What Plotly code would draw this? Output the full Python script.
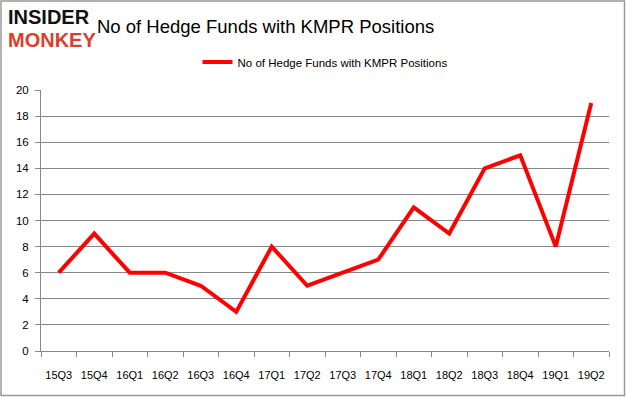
import plotly.graph_objects as go

quarters = ["15Q3", "15Q4", "16Q1", "16Q2", "16Q3", "16Q4", "17Q1", "17Q2",
            "17Q3", "17Q4", "18Q1", "18Q2", "18Q3", "18Q4", "19Q1", "19Q2"]
funds = [6, 9, 6, 6, 5, 3, 8, 5, 6, 7, 11, 9, 14, 15, 8, 19]
series_name = "No of Hedge Funds with KMPR Positions"
y_ticks = list(range(0, 21, 2))

L, R, T, B = 41, 17, 90, 46
W, H = 626, 397
pw, ph = W - L - R, H - T - B

def px(x):
    return (x - L) / pw

def py(y):
    return (H - B - y) / ph

fig = go.Figure()
fig.add_trace(go.Scatter(
    x=quarters, y=funds, mode="lines", name=series_name,
    line=dict(color="#ff0000", width=4),
))

fig.update_layout(
    width=W, height=H,
    margin=dict(l=L, r=R, t=T, b=B),
    paper_bgcolor="white", plot_bgcolor="white",
    font=dict(family="Liberation Sans, Arial, sans-serif", color="black", size=11),
    showlegend=True,
    legend=dict(orientation="h", x=0.5, xanchor="center", y=py(62), yanchor="middle",
                font=dict(size=11.5), bgcolor="rgba(0,0,0,0)"),
    xaxis=dict(type="category", showgrid=False, showline=True, linecolor="#888888",
               ticks="outside", tickson="boundaries", ticklen=5, tickcolor="#888888",
               tickfont=dict(size=11), tickangle=0, automargin=False, range=[-0.5, 15.5],
               ticklabelstandoff=14),
    yaxis=dict(range=[0, 20], tickvals=y_ticks, showgrid=True, gridcolor="#888888",
               gridwidth=1, showline=True, linecolor="#888888", ticks="outside",
               ticklen=5, tickcolor="#888888", tickfont=dict(size=11.5), zeroline=False,
               automargin=False, ticklabelstandoff=4),
)
# outer border of full image
fig.add_shape(type="rect", xref="paper", yref="paper",
              x0=px(1), x1=px(W - 1.5), y0=py(H - 1.5), y1=py(1),
              line=dict(color="#999999", width=1.5), layer="below")

fig.add_annotation(text="<b>INSIDER</b>", xref="paper", yref="paper",
                   x=px(6), y=py(17), xanchor="left", yanchor="middle",
                   showarrow=False, font=dict(family="Liberation Sans, sans-serif", size=20, color="#111111"))
fig.add_annotation(text="<b>MONKEY</b>", xref="paper", yref="paper",
                   x=px(6), y=py(40), xanchor="left", yanchor="middle",
                   showarrow=False, font=dict(family="Liberation Sans, sans-serif", size=20, color="#d9402b"))
fig.add_annotation(text="No of Hedge Funds with KMPR Positions", xref="paper", yref="paper",
                   x=px(95), y=py(27), xanchor="left", yanchor="middle",
                   showarrow=False, font=dict(family="Liberation Sans, sans-serif", size=18.5, color="black"))

fig.write_html("out.html", config={"displayModeBar": False},
               post_script="document.body.style.margin='0';document.body.style.padding='0';document.body.style.overflow='hidden';")
